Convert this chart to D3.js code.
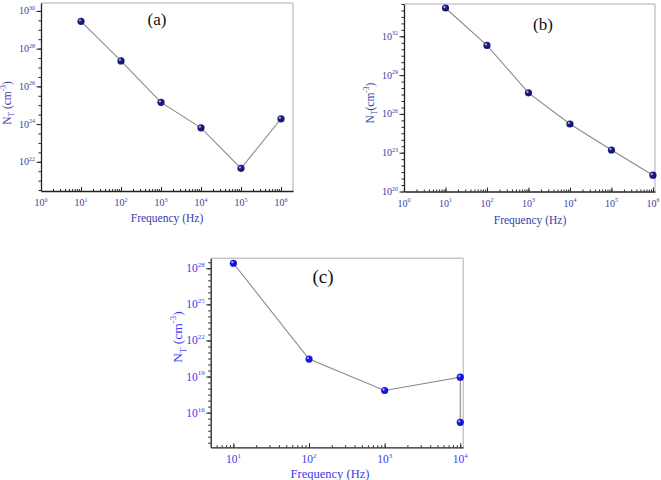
<!DOCTYPE html>
<html><head><meta charset="utf-8">
<script src="https://cdn.jsdelivr.net/npm/d3@7"></script>
<style>body{margin:0;background:#fff}svg{display:block}svg text{font-family:"Liberation Serif","Times New Roman",serif}</style>
</head><body>
<svg id="c" width="661" height="480" font-family="Liberation Serif, Times New Roman, serif"></svg>
<script>
// Data (exponents of N_T in cm^-3)
const freqA = [1e1, 1e2, 1e3, 1e4, 1e5, 1e6];
const expA = [29.45, 27.35, 25.15, 23.8, 21.65, 24.28];
const freqB = [1e1, 1e2, 1e3, 1e4, 1e5, 1e6];
const expB = [34.19, 31.3, 27.63, 25.22, 23.21, 21.26];
const freqC = [1e1, 1e2, 1e3, 1e4, 1e4];
const expC = [28.42, 20.45, 17.84, 18.95, 15.2];
const xTicksAB = [0, 1, 2, 3, 4, 5, 6];
const xTicksC = [1, 2, 3, 4];
const yTicksA = [22, 24, 26, 28, 30];
const yTicksB = [20, 23, 26, 29, 32];
const yTicksC = [16, 19, 22, 25, 28];

const svg = d3.select("#c");
const defs = svg.append("defs");
function grad(id, base, hi) {
  const g = defs.append("radialGradient").attr("id", id).attr("cx", "35%").attr("cy", "35%").attr("r", "65%");
  g.append("stop").attr("offset", "0%").attr("stop-color", hi);
  g.append("stop").attr("offset", "35%").attr("stop-color", base);
  g.append("stop").attr("offset", "100%").attr("stop-color", d3.color(base).darker(0.8));
}
grad("gDark", "#1c1c8c", "#e8e8ff");
grad("gBright", "#1a1aee", "#e0e0ff");

function panel(o) {
  const x = d3.scaleLog().domain(o.xDom).range([o.left, o.right]);
  const y = d3.scaleLinear().domain(o.yDom).range([o.bottom, o.top]); // exponent scale
  const g = svg.append("g");
  // frame (top/right light)
  g.append("line").attr("x1", o.left).attr("x2", o.right).attr("y1", o.top).attr("y2", o.top).attr("stroke", "#c8c8c8").attr("stroke-width", 1.5);
  g.append("line").attr("x1", o.right).attr("x2", o.right).attr("y1", o.top).attr("y2", o.bottom).attr("stroke", "#c8c8c8").attr("stroke-width", 1.5);
  // x axis (ticks inward)
  const xMin = Math.log10(o.xDom[0]), xMax = Math.log10(o.xDom[1]);
  const minorX = [];
  for (let e = Math.floor(xMin); e <= Math.ceil(xMax); e++) for (let m = 1; m < 10; m++) {
    const v = m * Math.pow(10, e);
    if (Math.log10(v) >= xMin - 1e-9 && Math.log10(v) <= xMax + 1e-9) minorX.push(v);
  }
  const xa = g.append("g").attr("transform", `translate(0,${o.bottom})`)
    .call(d3.axisTop(x).tickValues(minorX).tickSizeInner(2).tickSizeOuter(0).tickFormat(""));
  xa.select(".domain").attr("stroke", "#222").attr("stroke-width", 1.3);
  xa.selectAll(".tick line").attr("stroke", "#222");
  const xm = g.append("g").attr("transform", `translate(0,${o.bottom})`)
    .call(d3.axisTop(x).tickValues(o.xTicks.map(e => Math.pow(10, e))).tickSize(4).tickFormat(""));
  xm.select(".domain").remove();
  xm.selectAll(".tick line").attr("stroke", "#222");
  o.xTicks.forEach(e => {
    const t = g.append("text").attr("x", x(Math.pow(10, e))).attr("y", o.bottom + o.xTickOff)
      .attr("text-anchor", "middle").attr("fill", o.color).attr("font-size", o.fs);
    t.append("tspan").text("10");
    t.append("tspan").attr("dy", -o.fs * 0.45).attr("font-size", o.fs * 0.6).text(e);
  });
  // y axis (ticks outward)
  const yMinor = [];
  for (let v = Math.ceil(o.yDom[0] * 2) / 2; v <= o.yDom[1] + 1e-9; v += o.yMinorStep) yMinor.push(v);
  const ya = g.append("g").attr("transform", `translate(${o.left},0)`)
    .call(d3.axisLeft(y).tickValues(yMinor).tickSizeInner(2.5).tickSizeOuter(0).tickFormat(""));
  ya.select(".domain").attr("stroke", "#222").attr("stroke-width", 1.3);
  ya.selectAll(".tick line").attr("stroke", "#222");
  const ym = g.append("g").attr("transform", `translate(${o.left},0)`)
    .call(d3.axisLeft(y).tickValues(o.yTicks).tickSize(4.5).tickFormat(""));
  ym.select(".domain").remove();
  ym.selectAll(".tick line").attr("stroke", "#222");
  o.yTicks.forEach(e => {
    const t = g.append("text").attr("x", o.left - 6).attr("y", y(e) + o.fs * 0.35)
      .attr("text-anchor", "end").attr("fill", o.color).attr("font-size", o.fs);
    t.append("tspan").text("10");
    t.append("tspan").attr("dy", -o.fs * 0.45).attr("font-size", o.fs * 0.6).text(e);
  });
  // labels
  g.append("text").attr("x", o.xLabX).attr("y", o.xLabY).attr("text-anchor", "middle")
    .attr("fill", o.color).attr("font-size", o.labFs).text("Frequency (Hz)");
  const yl = g.append("text").attr("transform", `translate(${o.yLabX},${o.yLabY}) rotate(-90)`)
    .attr("text-anchor", "middle").attr("fill", o.color).attr("font-size", o.yLabFs);
  yl.append("tspan").text("N");
  yl.append("tspan").attr("dy", o.yLabFs * 0.3).attr("font-size", o.yLabFs * 0.65).text("T");
  yl.append("tspan").attr("dy", -o.yLabFs * 0.3).text(o.ySep + "(cm");
  yl.append("tspan").attr("dy", -o.yLabFs * 0.45).attr("font-size", o.yLabFs * 0.65).text("-3");
  yl.append("tspan").attr("dy", o.yLabFs * 0.45).text(")");
  g.append("text").attr("x", o.tagX).attr("y", o.tagY).attr("text-anchor", "middle")
    .attr("fill", "#111").attr("font-size", o.tagFs).text(o.tag);
  // data
  const pts = o.xs.map((f, i) => [f, o.es[i]]);
  g.append("path").datum(pts).attr("fill", "none").attr("stroke", "#8a8a8a").attr("stroke-width", 1.1)
    .attr("d", d3.line().x(d => x(d[0])).y(d => y(d[1])));
  g.selectAll("circle.p").data(pts).enter().append("circle")
    .attr("cx", d => x(d[0])).attr("cy", d => y(d[1])).attr("r", o.r)
    .attr("fill", `url(#${o.grad})`);
}

panel({xs: freqA, es: expA, xDom: [1, Math.pow(10, 6.3)], yDom: [20.45, 30.42],
  left: 41, right: 293, top: 3, bottom: 191, xTicks: xTicksAB, yTicks: yTicksA, yMinorStep: 0.5,
  color: "#3b3ba6", fs: 10, xTickOff: 15, labFs: 11.5, yLabFs: 11.5, ySep: " ", xLabX: 167, xLabY: 222, yLabX: 11, yLabY: 103,
  tag: "(a)", tagX: 157, tagY: 25, tagFs: 17, grad: "gDark", r: 3.6});
panel({xs: freqB, es: expB, xDom: [1, Math.pow(10, 6.05)], yDom: [20, 34.5],
  left: 404, right: 655, top: 4, bottom: 191.5, xTicks: xTicksAB, yTicks: yTicksB, yMinorStep: 0.5,
  color: "#3b3ba6", fs: 10, xTickOff: 15, labFs: 11.5, yLabFs: 11.5, ySep: "", xLabX: 530, xLabY: 224, yLabX: 374, yLabY: 103,
  tag: "(b)", tagX: 543, tagY: 30, tagFs: 17, grad: "gDark", r: 3.6});
panel({xs: freqC, es: expC, xDom: [Math.pow(10, 0.7), Math.pow(10, 4.04)], yDom: [13.12, 28.83],
  left: 210.7, right: 463.3, top: 258.3, bottom: 447.3, xTicks: xTicksC, yTicks: yTicksC, yMinorStep: 0.5,
  color: "#3a3af0", fs: 11.5, xTickOff: 16, labFs: 12.5, yLabFs: 13.5, ySep: " ", xLabX: 330, xLabY: 477.5, yLabX: 182, yLabY: 337,
  tag: "(c)", tagX: 323, tagY: 283, tagFs: 19, grad: "gBright", r: 3.6});
</script>
</body></html>
